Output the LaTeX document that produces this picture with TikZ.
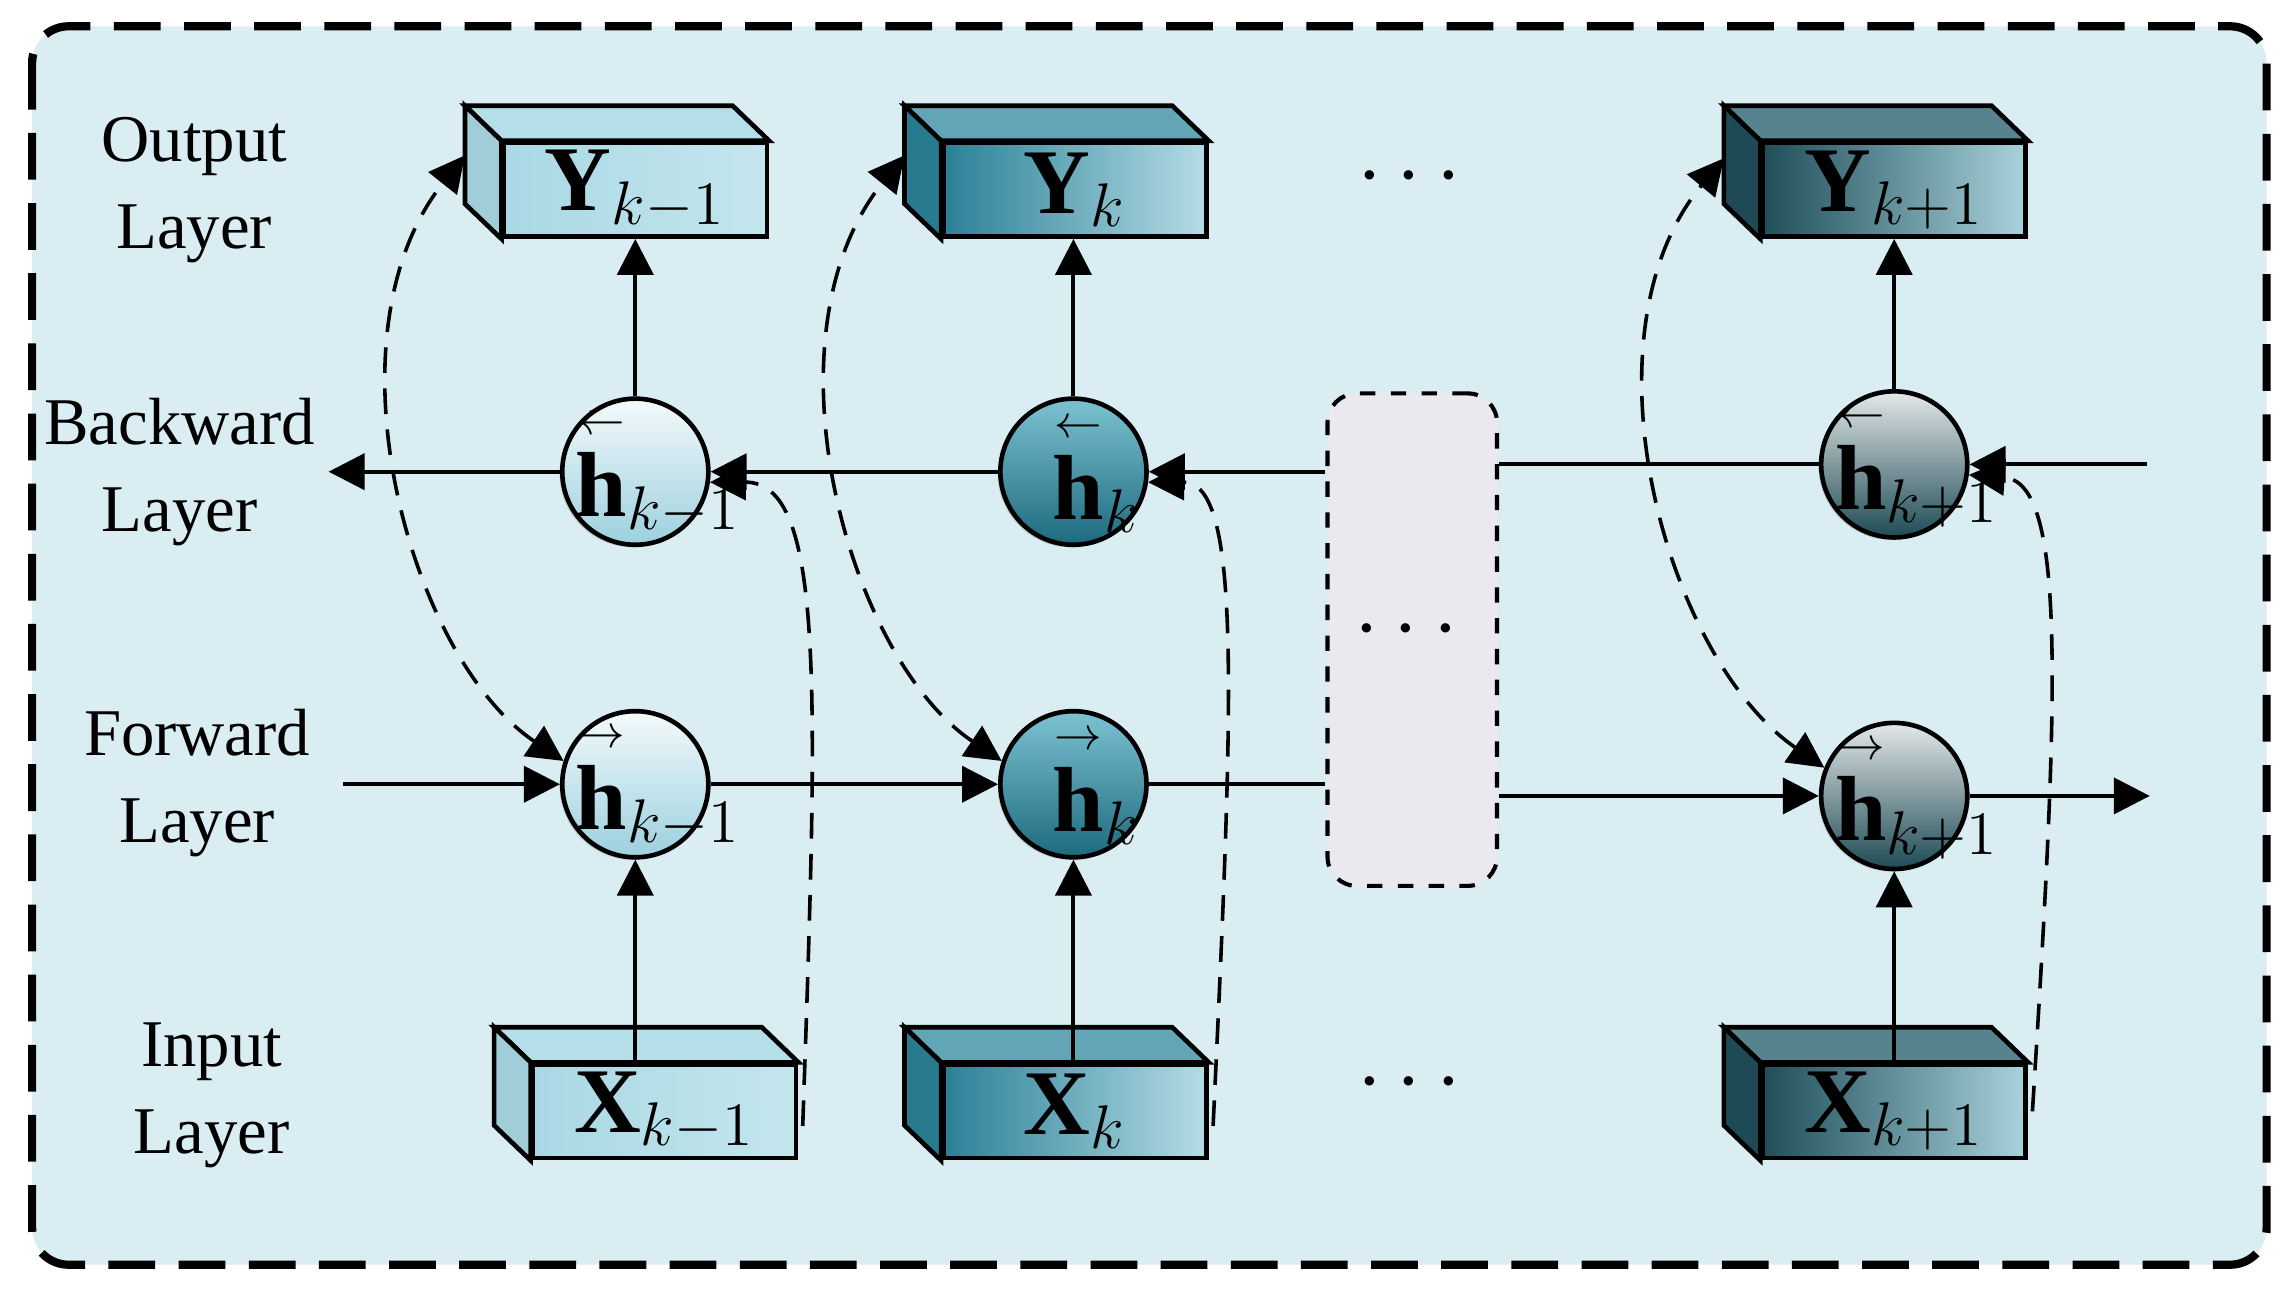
\documentclass[tikz,border=0pt]{standalone}
\usepackage{fontspec}
\setmainfont{Liberation Serif}
\usepackage{amsmath}
\usetikzlibrary{calc,arrows.meta,shadows}
\definecolor{bg}{HTML}{DAEDF2}
\definecolor{pinkbox}{HTML}{ECE8F0}
\definecolor{la}{HTML}{A9D8E4}\definecolor{lb}{HTML}{C4E6EE}
\definecolor{ma}{HTML}{2A8096}\definecolor{mb}{HTML}{B4DCE6}
\definecolor{da}{HTML}{1F4E59}\definecolor{db}{HTML}{A8D2DC}
\definecolor{c1t}{HTML}{F4FAFC}\definecolor{c1b}{HTML}{9CD0DE}
\definecolor{c2t}{HTML}{7CC2D2}\definecolor{c2b}{HTML}{1D6A7E}
\definecolor{c3t}{HTML}{E4E8E8}\definecolor{c3b}{HTML}{1E4B55}
\tikzset{
  x=0.01cm,y=-0.01cm,
  front/.style={draw,line width=0.9pt,minimum width=1.8cm,minimum height=0.64cm,inner sep=0pt,font=\fontsize{18}{20}\selectfont},
  cell/.style={circle,draw,line width=0.9pt,minimum size=1.0cm,inner sep=0pt,font=\fontsize{18}{20}\selectfont,drop shadow={opacity=0.3,shadow xshift=-0.5pt,shadow yshift=-0.5pt}},
  arr/.style={line width=0.8pt,-{Triangle[length=7pt,width=7pt]}},
  dsh/.style={line width=0.7pt,dash pattern=on 5pt off 3pt},
  lab/.style={align=center,font=\fontsize{13}{17}\selectfont},
  dots/.style={font=\fontsize{16}{18}\selectfont}
}
\newcommand\cuboid[6]{%
  \node[front,left color=#4,right color=#5] (#1) at (#2,#3) {\makebox[0pt]{#6}};
  \filldraw[line width=0.9pt,fill=#4!60!#5] (#1.north west) -- ++(-25,-24) -- ($(#1.north east)+(-25,-24)$) -- (#1.north east) -- cycle;
  \filldraw[line width=0.9pt,fill=#4!95!black] (#1.north west) -- ++(-25,-24) -- ($(#1.south west)+(-25,-24)$) -- (#1.south west) -- cycle;
}
\newcommand\hl[2]{\makebox[0pt]{\hspace{0.5em}$\overset{\scriptscriptstyle#1}{\mathbf h}_{#2}$}}
\begin{document}
\begin{tikzpicture}
\useasboundingbox (0,0) rectangle (1568,883);
\draw[fill=bg,line width=1.6pt,dash pattern=on 0.32cm off 0.16cm,rounded corners=0.25cm] (22,18) rectangle (1552,866);
% labels
\node[lab] (lo) at (133,130) {Output\\Layer};
\node[lab] (lb) at (123,323) {Backward\\Layer};
\node[lab] (lf) at (135,536) {Forward\\Layer};
\node[lab] (li) at (145,750) {Input\\Layer};
% middle box
\node[draw,fill=pinkbox,dashed,line width=0.8pt,rounded corners=0.2cm,minimum width=1.16cm,minimum height=3.37cm] (mid) at (967,438) {};
\node[dots] (d2) at (968,432) {$\cdots$};
\node[dots] (d1) at (970,122) {$\cdots$};
\node[dots] (d3) at (970,742) {$\cdots$};
% boxes
\cuboid{y1}{435}{130}{la}{lb}{$\mathbf{Y}_{k-1}$}
\cuboid{y2}{736}{130}{ma}{mb}{$\mathbf{Y}_{k}$}
\cuboid{y3}{1297}{130}{da}{db}{$\mathbf{Y}_{k+1}$}
\cuboid{x1}{455}{761}{la}{lb}{$\mathbf{X}_{k-1}$}
\cuboid{x2}{736}{761}{ma}{mb}{$\mathbf{X}_{k}$}
\cuboid{x3}{1297}{761}{da}{db}{$\mathbf{X}_{k+1}$}
% cells
\node[cell,top color=c1t,bottom color=c1b] (b1) at (435,323) {\hl{\leftarrow}{k-1}};
\node[cell,top color=c2t,bottom color=c2b] (b2) at (735,323) {\hl{\leftarrow}{k}};
\node[cell,top color=c3t,bottom color=c3b] (b3) at (1297,318) {\hl{\leftarrow}{k+1}};
\node[cell,top color=c1t,bottom color=c1b] (f1) at (435,537) {\hl{\rightarrow}{k-1}};
\node[cell,top color=c2t,bottom color=c2b] (f2) at (735,537) {\hl{\rightarrow}{k}};
\node[cell,top color=c3t,bottom color=c3b] (f3) at (1297,545) {\hl{\rightarrow}{k+1}};
% free ends
\coordinate (bl) at (225,323);
\coordinate (br) at (1470,318);
\coordinate (fl) at (235,537);
\coordinate (fr) at (1472,545);
% backward
\draw[arr] (mid.west|-b2) -- (b2);
\draw[arr] (b2) -- (b1);
\draw[arr] (b1) -- (bl);
\draw[arr] (br) -- (b3);
\draw[line width=0.8pt] (b3) -- (mid.east|-b3);
% forward
\draw[arr] (fl) -- (f1);
\draw[arr] (f1) -- (f2);
\draw[line width=0.8pt] (f2) -- (mid.west|-f2);
\draw[arr] (mid.east|-f3) -- (f3);
\draw[arr] (f3) -- (fr);
% vertical
\foreach \i in {1,2,3}{
  \draw[arr] (f\i|-x\i.north) -- (f\i);
  \draw[arr] (b\i) -- (b\i|-y\i.south);
}
% dashed curves
\draw[dsh,{Triangle[length=7pt,width=7pt]}-{Triangle[length=7pt,width=7pt]}] (f1.162) .. controls (280,450) and (220,230) .. ($(y1.north west)+(-25,10)$);
\draw[dsh,{Triangle[length=7pt,width=7pt]}-{Triangle[length=7pt,width=7pt]}] (f2.162) .. controls (580,450) and (520,230) .. ($(y2.north west)+(-25,10)$);
\draw[dsh,{Triangle[length=7pt,width=7pt]}-{Triangle[length=7pt,width=7pt]}] (f3.158) .. controls (1140,450) and (1080,230) .. ($(y3.north west)+(-25,12)$);
\draw[dsh,-{Triangle[length=7pt,width=7pt]}] ($(x1.east)+(3,10)$) .. controls (560,470) and (565,330) .. (b1.-8);
\draw[dsh,-{Triangle[length=7pt,width=7pt]}] ($(x2.east)+(3,10)$) .. controls (845,470) and (850,330) .. (b2.-8);
\draw[dsh,-{Triangle[length=7pt,width=7pt]}] ($(x3.east)+(3,0)$) .. controls (1410,470) and (1415,330) .. (b3.-8);
\end{tikzpicture}
\end{document}
